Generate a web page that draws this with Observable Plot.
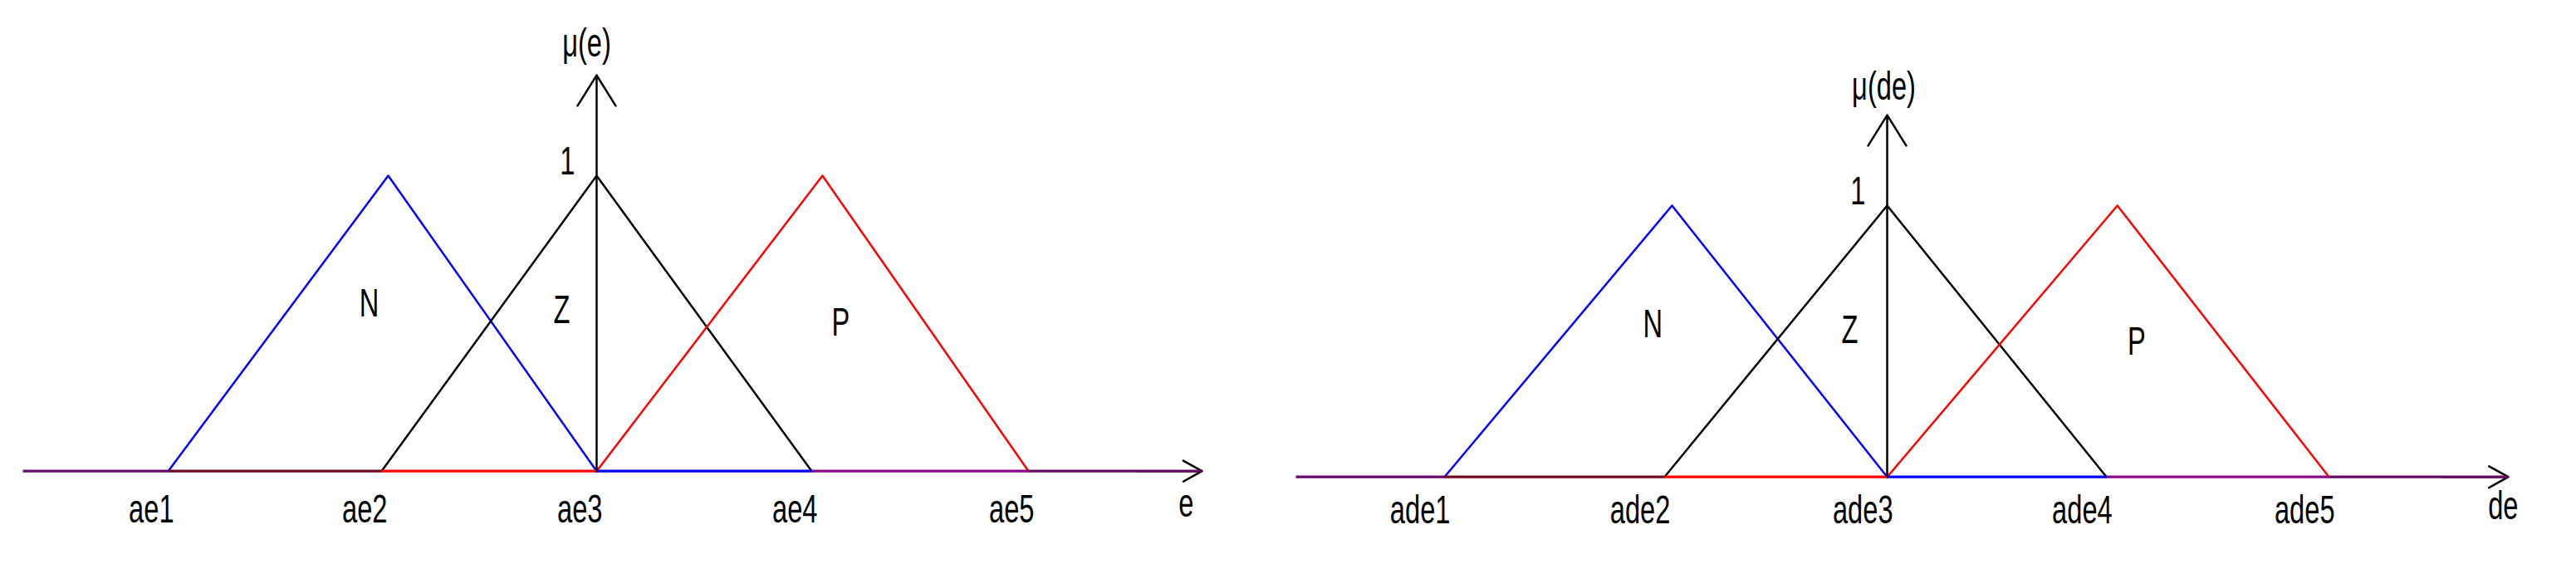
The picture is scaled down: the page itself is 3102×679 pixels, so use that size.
<!DOCTYPE html>
<html><head><meta charset="utf-8">
<script src="https://cdn.jsdelivr.net/npm/d3@7"></script>
<script src="https://cdn.jsdelivr.net/npm/@observablehq/plot@0.6"></script>
<style>
html,body{margin:0;padding:0;background:#fff;}
#wrap{display:flex;width:3102px;height:679px;overflow:hidden;background:#fff;}
#wrap svg{flex:none;}
</style></head><body><div id="wrap"></div>
<script>
// ---- shared ----
const setNames = ["N", "Z", "P"];
const setColors = ["#0000ff", "#000000", "#ff0000"];
const baseColors = ["#650a6e", "#6e0a23", "#ff0000", "#0000ff", "#8a0a8a", "#650a65"];

// ---- left panel: e ----
const eTicks = ["ae1", "ae2", "ae3", "ae4", "ae5"];
const eBreaks = [-1.992, -1.0, 0, 1.0, 2.008];
const ePeaks = [-0.969, 0, 1.05];
const eLabelX = [-1.058, -0.162, 1.135];
const eLabelY = [0.567, 0.545, 0.502];
const eAxis = [-2.668, 2.815];
const eArrowTop = 1.34;

// ---- right panel: de ----
const deTicks = ["ade1", "ade2", "ade3", "ade4", "ade5"];
const deBreaks = [-2.002, -1.007, 0, 0.992, 1.998];
const dePeaks = [-0.973, 0, 1.041];
const deLabelX = [-1.06, -0.169, 1.128];
const deLabelY = [0.562, 0.541, 0.498];
const deAxis = [-2.674, 2.809];
const deArrowTop = 1.333;

const FONT = "'Liberation Sans', Arial, sans-serif";
const FS = 48;

function panel(o) {
  const tri = setNames.flatMap((s, i) => [
    {set: s, x: o.breaks[i], y: 0},
    {set: s, x: o.peaks[i], y: 1},
    {set: s, x: o.breaks[i + 2], y: 0}
  ]);
  const bounds = [o.axis[0], ...o.breaks, o.axis[1]];
  const segs = d3.pairs(bounds).map(([a, b], i) => ({x1: a, x2: b, y: 0, c: baseColors[i]}));
  const ticks = o.ticks.map((t, i) => ({x: o.breaks[i], y: 0, t}));
  const names = setNames.map((s, i) => ({x: o.labelX[i], y: o.labelY[i], t: s}));
  const lines = setNames.map((s, i) =>
    Plot.line(tri.filter(d => d.set === s), {x: "x", y: "y", stroke: setColors[i], strokeWidth: 2.5}));
  const svg = Plot.plot({
    width: 1551, height: 679,
    marginLeft: o.ml, marginRight: o.mr, marginTop: o.mt, marginBottom: o.mb,
    x: {domain: o.axis, axis: null},
    y: {domain: [0, 1], axis: null},
    color: {type: "identity"},
    style: {background: "white", overflow: "visible", fontFamily: FONT, color: "black", maxWidth: "none"},
    marks: [
      ...lines,
      Plot.arrow([{x1: o.axis[1] - 0.3, x2: o.axis[1], y: 0}],
        {x1: "x1", x2: "x2", y1: "y", y2: "y", stroke: "black", strokeWidth: 2.5, headLength: 26, headAngle: 58}),
      Plot.link(segs, {x1: "x1", x2: "x2", y1: "y", y2: "y", stroke: "c", strokeWidth: 3.2}),
      Plot.arrow([{x: 0, y1: 0, y2: o.arrowTop}],
        {x1: "x", x2: "x", y1: "y1", y2: "y2", stroke: "black", strokeWidth: 2.5, headLength: 26, headAngle: 64}),
      Plot.text(ticks, {x: "x", y: "y", text: "t", textAnchor: "end", lineAnchor: "bottom", dx: 7, dy: o.tickDy, fontSize: FS, fill: "black"}),
      Plot.text([{x: o.axis[1], y: 0, t: o.name}], {x: "x", y: "y", text: "t", textAnchor: "end", lineAnchor: "bottom", dx: o.nameDx, dy: o.nameDy, fontSize: FS, fill: "black"}),
      Plot.text([{x: 0, y: 1, t: "1"}], {x: "x", y: "y", text: "t", textAnchor: "end", lineAnchor: "bottom", dx: -26, dy: -2, fontSize: FS, fill: "black"}),
      Plot.text([{x: 0, y: o.arrowTop, t: o.mu}], {x: "x", y: "y", text: "t", textAnchor: "middle", lineAnchor: "bottom", dx: o.muDx, dy: o.muDy, fontSize: FS, fill: "black"}),
      Plot.text(names, {x: "x", y: "y", text: "t", textAnchor: "middle", fontSize: FS, fill: "black"})
    ]
  });
  // condensed look of the original bitmap font
  svg.querySelectorAll("text").forEach(t => {
    const tr = t.getAttribute("transform");
    if (tr) t.setAttribute("transform", tr + " scale(0.68,1)");
  });
  return svg;
}

const wrap = document.getElementById("wrap");
wrap.appendChild(panel({
  ticks: eTicks, breaks: eBreaks, peaks: ePeaks, labelX: eLabelX, labelY: eLabelY,
  axis: eAxis, arrowTop: eArrowTop, name: "e", mu: "μ(e)",
  ml: 27, mr: 104, mt: 211, mb: 112.3, tickDy: 62, nameDx: -10, nameDy: 55, muDx: -12, muDy: -23
}));
wrap.appendChild(panel({
  ticks: deTicks, breaks: deBreaks, peaks: dePeaks, labelX: deLabelX, labelY: deLabelY,
  axis: deAxis, arrowTop: deArrowTop, name: "de", mu: "μ(de)",
  ml: 9, mr: 82, mt: 247, mb: 105.3, tickDy: 56, nameDx: 12, nameDy: 51, muDx: -4, muDy: -19
}));
</script></body></html>
